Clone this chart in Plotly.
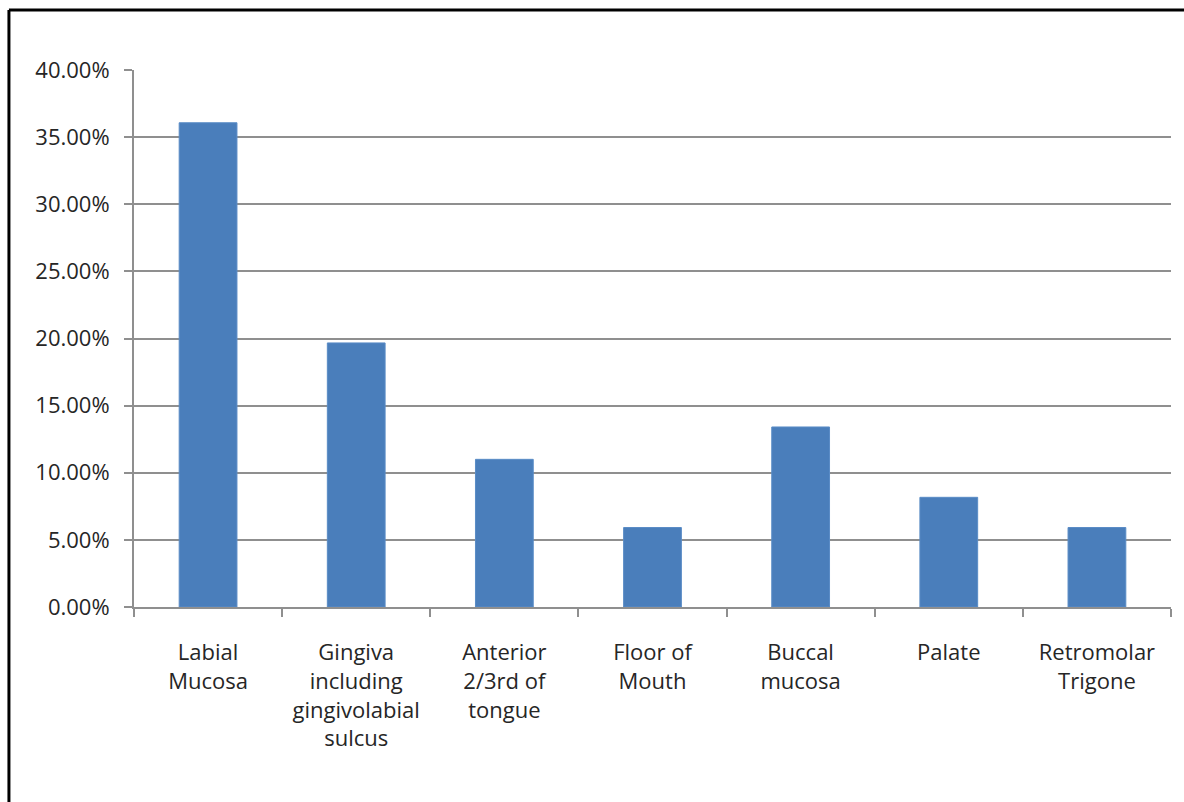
import plotly.graph_objects as go

categories = [
    "Labial<br>Mucosa",
    "Gingiva<br>including<br>gingivolabial<br>sulcus",
    "Anterior<br>2/3rd of<br>tongue",
    "Floor of<br>Mouth",
    "Buccal<br>mucosa",
    "Palate",
    "Retromolar<br>Trigone",
]
values = [0.3607, 0.1967, 0.1100, 0.0592, 0.1341, 0.0817, 0.0592]
y_ticks = [0, 0.05, 0.10, 0.15, 0.20, 0.25, 0.30, 0.35, 0.40]

grid = "#8f8f8f"
font = dict(family="Open Sans, DejaVu Sans, sans-serif", size=22, color="#262626")

fig = go.Figure(go.Bar(
    x=categories, y=values, width=0.39,
    marker=dict(color="#4a7ebb", line=dict(color="#5a8cc6", width=1)),
))

fig.update_layout(
    width=1184, height=802,
    margin=dict(l=134, r=13, t=70, b=195),
    paper_bgcolor="white", plot_bgcolor="white",
    showlegend=False, font=font, bargap=0.61,
    shapes=[
        dict(type="line", xref="paper", yref="paper",
             x0=-0.1206, x1=1.05, y0=1.1117, y1=1.1117,
             line=dict(color="black", width=3)),
        dict(type="line", xref="paper", yref="paper",
             x0=-0.1206, x1=-0.1206, y0=1.1117, y1=-0.4,
             line=dict(color="black", width=3)),
    ],
)
fig.update_xaxes(
    showline=True, linecolor=grid, linewidth=2,
    ticks="outside", tickson="boundaries", ticklen=8, tickcolor=grid, tickwidth=2,
    showgrid=False, ticklabelstandoff=25, tickfont=font,
)
fig.update_yaxes(
    range=[0, 0.40], tickvals=y_ticks, tickformat=".2%",
    showline=True, linecolor=grid, linewidth=2,
    ticks="outside", ticklen=8, tickcolor=grid, tickwidth=2,
    showgrid=True, gridcolor=grid, gridwidth=2,
    zeroline=False, ticklabelstandoff=10, tickfont=font,
)

fig.write_html("out.html")
